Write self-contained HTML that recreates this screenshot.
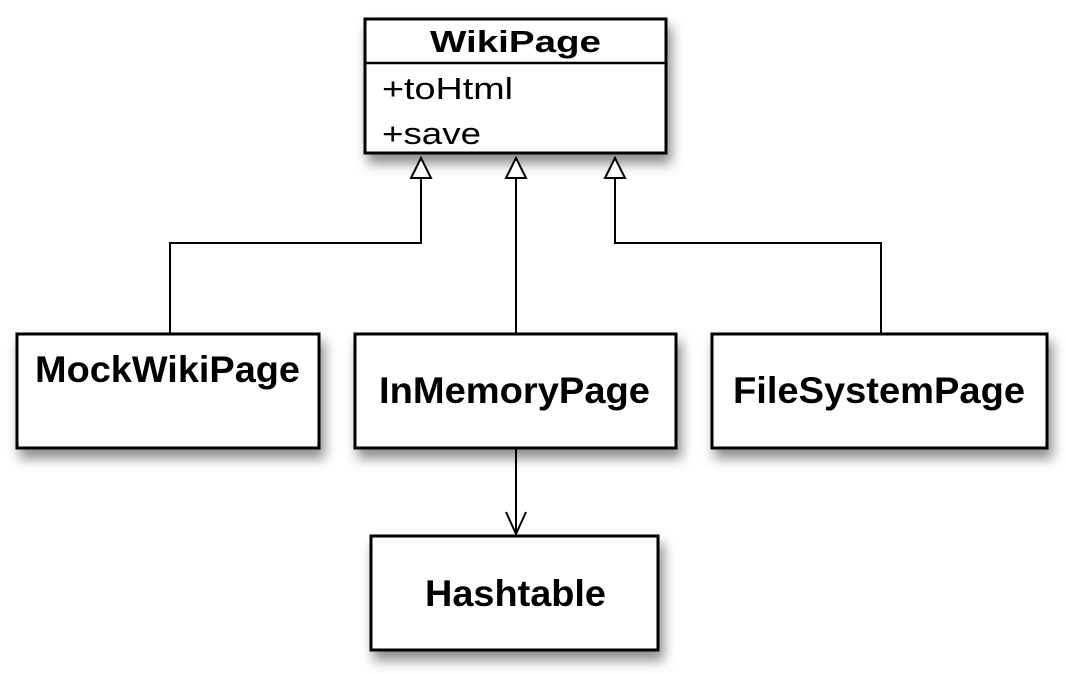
<!DOCTYPE html>
<html><head><style>body{margin:0;background:#fff}svg{display:block}</style></head>
<body>
<svg width="1066" height="674" viewBox="0 0 1066 674" xmlns="http://www.w3.org/2000/svg">
<defs>
<filter id="sh" x="-10%" y="-10%" width="130%" height="140%">
<feDropShadow dx="4" dy="9" stdDeviation="6" flood-color="#000" flood-opacity="0.45"/>
</filter>
</defs>
<g fill="#fff" stroke="#000" stroke-width="3" filter="url(#sh)">
<rect x="365" y="19" width="301" height="134"/>
<rect x="17" y="334" width="302" height="114"/>
<rect x="355" y="334" width="321" height="114"/>
<rect x="712" y="334" width="335" height="114"/>
<rect x="371" y="536" width="287" height="114"/>
</g>
<line x1="365" y1="63" x2="666" y2="63" stroke="#000" stroke-width="2.5"/>
<g fill="none" stroke="#000" stroke-width="2">
<polyline points="421,178 421,243 170,243 170,334"/>
<line x1="516" y1="178" x2="516" y2="334"/>
<polyline points="615,178 615,243 881,243 881,334"/>
<line x1="516" y1="448" x2="516" y2="534"/>
<polyline points="506,512 516,534 526,512"/>
</g>
<g fill="#fff" stroke="#000" stroke-width="2">
<polygon points="421,158 411,178 431,178"/>
<polygon points="516,158 506,178 526,178"/>
<polygon points="615,158 605,178 625,178"/>
</g>
<g font-family="Liberation Sans, Arial, sans-serif" font-weight="bold" font-size="37" fill="#000">
<text x="430" y="52" font-size="31" textLength="171" lengthAdjust="spacingAndGlyphs">WikiPage</text>
<text x="35" y="382" textLength="265" lengthAdjust="spacingAndGlyphs">MockWikiPage</text>
<text x="379" y="403" textLength="271" lengthAdjust="spacingAndGlyphs">InMemoryPage</text>
<text x="733" y="403" textLength="292" lengthAdjust="spacingAndGlyphs">FileSystemPage</text>
<text x="425" y="606" textLength="181" lengthAdjust="spacingAndGlyphs">Hashtable</text>
</g>
<g font-family="Liberation Sans, Arial, sans-serif" font-size="31" fill="#000">
<text x="382" y="99" textLength="131" lengthAdjust="spacingAndGlyphs">+toHtml</text>
<text x="382" y="144" textLength="99" lengthAdjust="spacingAndGlyphs">+save</text>
</g>
</svg>
</body></html>
